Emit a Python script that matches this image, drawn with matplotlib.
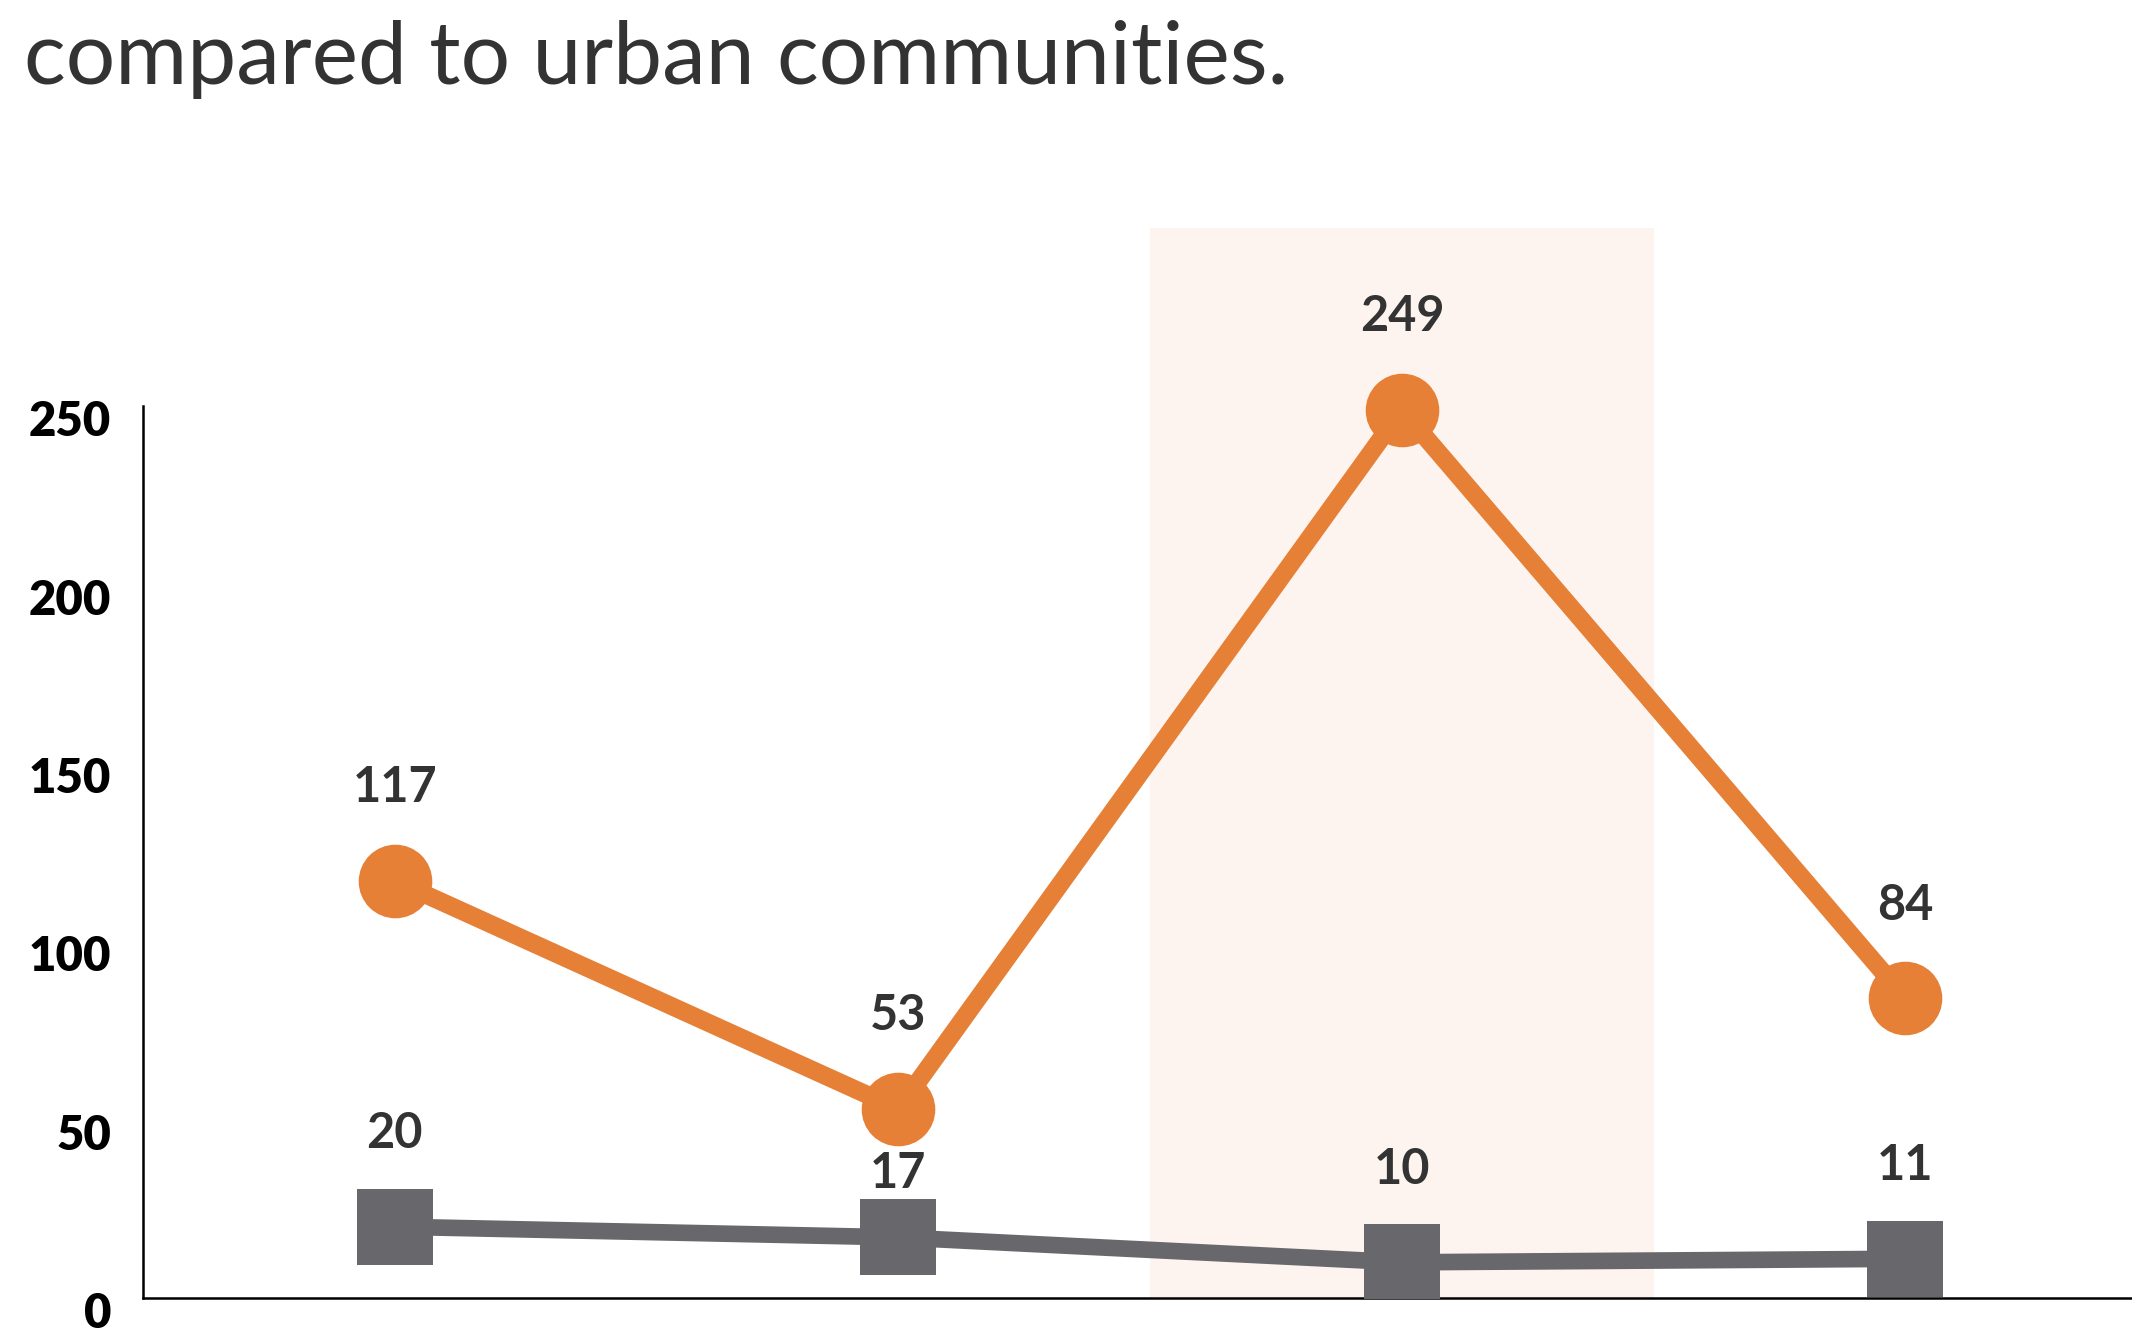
import numpy as np
import matplotlib
matplotlib.use("Agg")
import matplotlib.pyplot as plt
from matplotlib.transforms import ScaledTranslation

# data
positions = [0, 1, 2, 3]
rural = [117, 53, 249, 84]
urban = [20, 17, 10, 11]
# vertical offset (pt) of each value label above its marker
rural_label_dy = [67, 67, 67, 67]
urban_label_dy = [67, 46, 67, 67]
highlight = (1.5, 2.5)
yticks = [0, 50, 100, 150, 200, 250]

orange = "#E58036"
grey = "#68676B"
band = "#FEF4EF"
text_col = "#333333"

plt.rcParams["font.family"] = ["Lato", "DejaVu Sans"]

fig = plt.figure(figsize=(21.32, 13.35), dpi=100)
ax = fig.add_axes([0.0671, 0.0277, 0.9329, 0.8017])

ax.axvspan(highlight[0], highlight[1], ymin=0, ymax=1, color=band, lw=0, zorder=0)

ax.plot(positions, rural, color=orange, lw=13, marker="o", markersize=53,
        markeredgewidth=0, solid_capstyle="butt", zorder=3)
ax.plot(positions, urban, color=grey, lw=12, marker="s", markersize=55,
        markeredgewidth=0, solid_capstyle="butt", zorder=3)

for x, v, dy in zip(positions, rural, rural_label_dy):
    ax.annotate(str(v), (x, v), xytext=(0, dy), textcoords="offset points",
                ha="center", va="center", fontsize=35, fontweight="bold",
                color=text_col, zorder=5)
for x, v, dy in zip(positions, urban, urban_label_dy):
    ax.annotate(str(v), (x, v), xytext=(0, dy), textcoords="offset points",
                ha="center", va="center", fontsize=35, fontweight="bold",
                color=text_col, zorder=5)

ax.set_xlim(-0.5, 3.45)
ax.set_ylim(0, 300)
ax.set_xticks([])
ax.set_yticks(yticks)
ax.set_yticklabels([str(t) for t in yticks], fontsize=34, fontweight="heavy",
                   color="black")
ax.tick_params(axis="y", length=0, pad=23)
off = ScaledTranslation(0, -12 / 100, fig.dpi_scale_trans)
for lab in ax.get_yticklabels():
    lab.set_transform(lab.get_transform() + off)

for s in ["top", "right"]:
    ax.spines[s].set_visible(False)
ax.spines["left"].set_bounds(0, 250)
ax.spines["left"].set_linewidth(1.8)
ax.spines["bottom"].set_linewidth(1.8)
ax.spines["left"].set_color("black")
ax.spines["bottom"].set_color("black")
ax.set_facecolor("none")

fig.text(24 / 2132, 1 - 84 / 1335, "compared to urban communities.",
         fontsize=63, color=text_col, ha="left", va="baseline")

fig.savefig("out.png", dpi=100)
